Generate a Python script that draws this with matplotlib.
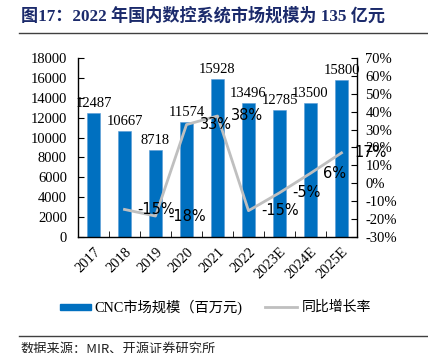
import matplotlib
matplotlib.use("Agg")
import matplotlib.pyplot as plt
import numpy as np
from matplotlib.patches import Rectangle
from matplotlib.lines import Line2D

years = ["2017", "2018", "2019", "2020", "2021", "2022", "2023E", "2024E", "2025E"]
market = [12487, 10667, 8718, 11574, 15928, 13496, 12785, 13500, 15800]
growth_years = ["2018", "2019", "2020", "2021", "2022", "2023E", "2024E", "2025E"]
growth = [-14.6, -18.3, 32.8, 37.6, -15.3, -5.3, 5.6, 17.0]
growth_labels = ["-15%", "-18%", "33%", "38%", "-15%", "-5%", "6%", "17%"]
left_ticks = [0, 2000, 4000, 6000, 8000, 10000, 12000, 14000, 16000, 18000]
right_ticks = [-30, -20, -10, 0, 10, 20, 30, 40, 50, 60, 70]

W, H = 428, 353
fig = plt.figure(figsize=(W / 100, H / 100), dpi=100)
serif = ["Liberation Serif", "Noto Sans CJK SC"]
cjk = ["Noto Sans CJK SC", "DejaVu Sans"]

def fx(px):
    return px / W

def fy(py):
    return 1 - py / H

# title
fig.text(fx(21), fy(16), "图17：2022 年国内数控系统市场规模为 135 亿元", family=serif,
         fontsize=12.3, fontweight="bold", color="#1B2A6B", va="center", ha="left")
fig.add_artist(Line2D([fx(19), fx(428)], [fy(33), fy(33)], color="#404040", lw=1.0))

ax = fig.add_axes([fx(78), fy(237), fx(357) - fx(78), fy(58) - fy(237)])
x = np.arange(len(years))
bars = ax.bar(x, market, width=0.4, color="#0070C0", edgecolor="#5B9BD5", linewidth=0.4, zorder=2)
ax.set_xlim(-0.5, len(years) - 0.5)
ax.set_ylim(0, 18000)
ax.set_yticks(left_ticks)
ax.set_yticklabels([str(v) for v in left_ticks], family=serif, fontsize=10.5)
ax.set_xticks(x)
ax.set_xticklabels(years, rotation=45, ha="right", rotation_mode="anchor", family=serif, fontsize=10.5)
ax.tick_params(axis="x", length=0, pad=6)
ax.set_xticks(np.arange(-0.5, len(years), 1.0), minor=True)
ax.tick_params(axis="x", which="minor", direction="in", length=4)
ax.tick_params(axis="y", direction="in", length=4, pad=8)
for s in ["top", "right"]:
    ax.spines[s].set_visible(False)
for s in ["left", "bottom"]:
    ax.spines[s].set_linewidth(1.0)
for xi, v in zip(x, market):
    ax.annotate(str(v), (xi, v), xytext=(0, 3), textcoords="offset pixels",
                ha="center", va="bottom", family=serif, fontsize=10.5, zorder=5)

ax2 = ax.twinx()
gx = [years.index(y) for y in growth_years]
ax2.plot(gx, growth, color="#BFBFBF", lw=2.0, zorder=3)
ax2.set_ylim(-30, 70)
ax2.set_yticks(right_ticks)
ax2.set_yticklabels([f"{v}%" for v in right_ticks], family=serif, fontsize=10.5)
ax2.tick_params(axis="y", direction="in", length=4, pad=6)
for s in ["top", "left", "bottom"]:
    ax2.spines[s].set_visible(False)
ax2.spines["right"].set_linewidth(1.0)
for xi, v, lab in zip(gx, growth, growth_labels):
    ax2.annotate(lab, (xi, v), xytext=(13, 0), textcoords="offset pixels",
                 ha="left", va="center", family="DejaVu Sans", fontsize=10.5, zorder=6)

# legend
fig.add_artist(Rectangle((fx(60), fy(310)), fx(91) - fx(60), fy(304) - fy(310), color="#0070C0"))
fig.text(fx(94), fy(307), "CNC市场规模（百万元)", family=serif, fontsize=10.3, va="center", ha="left")
fig.add_artist(Line2D([fx(265), fx(297)], [fy(307), fy(307)], color="#BFBFBF", lw=2.0))
fig.text(fx(302), fy(307), "同比增长率", family=cjk, fontsize=10, va="center", ha="left")

# source
fig.add_artist(Line2D([fx(19), fx(428)], [fy(336), fy(336)], color="#404040", lw=1.0))
fig.text(fx(20), fy(349), "数据来源：MIR、开源证券研究所", family=cjk, fontsize=9.5, va="center", ha="left", color="#222222")

fig.savefig("out.png", dpi=100)
